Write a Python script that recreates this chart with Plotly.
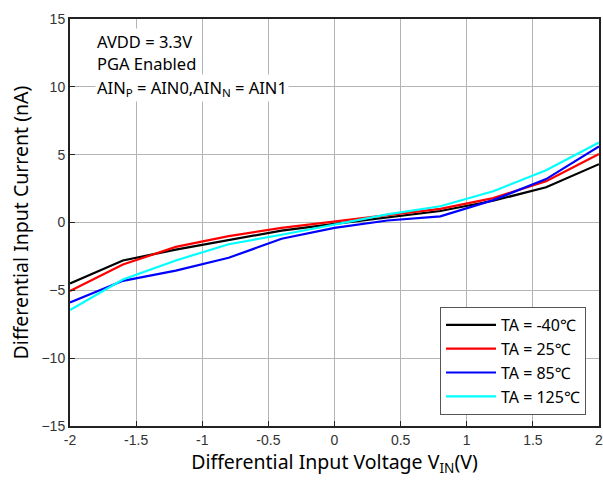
import plotly.graph_objects as go

vin = [-2, -1.6, -1.2, -0.8, -0.4, 0, 0.4, 0.8, 1.2, 1.6, 2]
i_m40 = [-4.5, -2.8, -2.0, -1.3, -0.6, -0.1, 0.4, 0.85, 1.6, 2.6, 4.3]
i_25 = [-5.05, -3.1, -1.8, -1.0, -0.4, 0.1, 0.55, 1.0, 1.8, 3.05, 5.05]
i_85 = [-5.9, -4.3, -3.55, -2.6, -1.2, -0.4, 0.15, 0.45, 1.65, 3.2, 5.6]
i_125 = [-6.45, -4.2, -2.8, -1.6, -0.9, -0.15, 0.6, 1.2, 2.3, 3.85, 5.9]

names = ["TA = -40℃", "TA = 25℃", "TA = 85℃", "TA = 125℃"]
series = [i_m40, i_25, i_85, i_125]
colors = ["#000000", "#ff0000", "#0000ff", "#00ffff"]

xticks = [-2, -1.5, -1, -0.5, 0, 0.5, 1, 1.5, 2]
xticklabels = ["-2", "-1.5", "-1", "-0.5", "0", "0.5", "1", "1.5", "2"]
yticks = [-15, -10, -5, 0, 5, 10, 15]

W, H = 603, 484
PL, PR, PT, PB = 70, 599, 19, 426

fig = go.Figure()
for n, s, c in zip(names, series, colors):
    fig.add_trace(go.Scatter(x=vin, y=s, name=n, mode="lines",
                             line=dict(color=c, width=2.2)))

axis_common = dict(showline=True, linecolor="#222222", linewidth=2, mirror=True,
                   showgrid=True, gridcolor="#b4b4b4", gridwidth=1,
                   ticks="inside", ticklen=5, tickcolor="#222222",
                   zeroline=False, automargin=False,
                   tickfont=dict(family="Liberation Sans, Arial", size=14, color="#333333"))

fig.update_xaxes(range=[-2, 2], tickvals=xticks, ticktext=xticklabels,
                 ticklabeloverflow="allow",
                 title=dict(text="Differential Input Voltage V<sub>IN</sub>(V)",
                            font=dict(family="Noto Sans", size=19.5, color="#000"), standoff=6),
                 **axis_common)
fig.update_yaxes(range=[-15, 15], tickvals=yticks,
                 title=dict(text="Differential Input Current (nA)",
                            font=dict(family="Noto Sans", size=19.5, color="#000"), standoff=8),
                 **axis_common)

pw, ph = PR - PL, PB - PT
ann_font = dict(family="Noto Sans", size=16.5, color="#000")
for txt, yy in [("AVDD = 3.3V", 42), ("PGA Enabled", 64),
                ("AIN<sub>P</sub> = AIN0,AIN<sub>N</sub> = AIN1", 88)]:
    fig.add_annotation(text=txt, xref="paper", yref="paper",
                       x=(95 - 70) / pw, y=1 - (yy - 19) / ph,
                       xanchor="left", yanchor="middle", showarrow=False,
                       font=ann_font, bgcolor="white")

fig.update_layout(
    width=W, height=H,
    margin=dict(l=PL, r=W - PR, t=PT, b=H - PB),
    plot_bgcolor="white", paper_bgcolor="white",
    showlegend=True,
    legend=dict(x=(586 - 70) / pw, y=(426 - 415) / ph, xanchor="right", yanchor="bottom",
                bgcolor="white", bordercolor="#555555", borderwidth=1,
                font=dict(family="Noto Sans", size=16, color="#000"),
                tracegroupgap=0, itemwidth=50),
)

fig.write_html("out.html", config={"displayModeBar": False},
               post_script="document.body.style.margin='0';document.body.style.overflow='hidden';")
